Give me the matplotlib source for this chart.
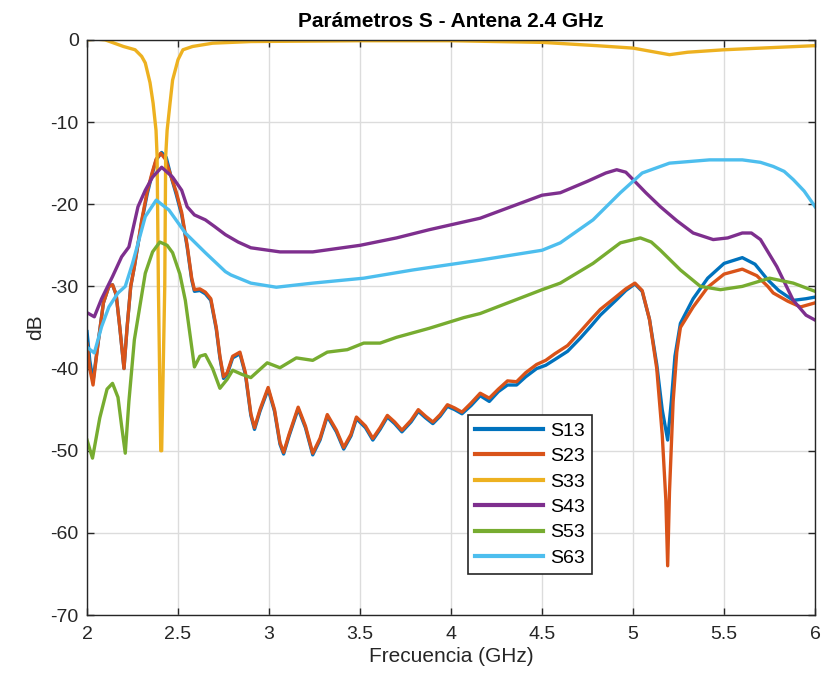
import matplotlib
matplotlib.use("Agg")
import matplotlib.pyplot as plt

plt.rcParams["font.family"] = ["Liberation Sans", "DejaVu Sans"]
plt.rcParams["axes.unicode_minus"] = False

# ---- data (GHz, dB) ----
f23 = [2.0, 2.015, 2.033, 2.06, 2.09, 2.12, 2.14, 2.16, 2.18, 2.203, 2.22, 2.24,
       2.26, 2.30, 2.33, 2.357, 2.38, 2.405, 2.43, 2.46, 2.49, 2.52, 2.55, 2.575,
       2.59, 2.62, 2.65, 2.68, 2.71, 2.73, 2.75, 2.77, 2.80, 2.84, 2.87, 2.90,
       2.92, 2.95, 2.995, 3.03, 3.06, 3.08, 3.11, 3.16, 3.20, 3.24, 3.28, 3.32,
       3.37, 3.41, 3.45, 3.48, 3.53, 3.57, 3.61, 3.65, 3.69, 3.73, 3.78, 3.82,
       3.86, 3.90, 3.94, 3.98, 4.02, 4.06, 4.11, 4.16, 4.21, 4.26, 4.31, 4.36,
       4.41, 4.47, 4.52, 4.57, 4.64, 4.71, 4.77, 4.82, 4.91, 4.96, 5.01, 5.05,
       5.09, 5.13, 5.16, 5.18, 5.19, 5.20, 5.22, 5.24, 5.26, 5.33, 5.41, 5.50,
       5.60, 5.68, 5.74, 5.77, 5.85, 5.92, 6.0]
s23 = [-37, -40, -42, -37, -32, -30, -29.8, -31, -35, -40, -35, -30,
       -27.6, -22, -18.5, -16.2, -14.5, -13.8, -14.5, -16.5, -18.5, -21, -25, -29,
       -30.4, -30.3, -30.7, -31.5, -35, -38.5, -41, -40.5, -38.5, -38, -40.5, -45.5,
       -47.2, -45, -42.3, -45, -49, -50.2, -48, -44.7, -47, -50.3, -48.5, -45.6,
       -47.5, -49.6, -48, -45.9, -47, -48.5, -47.2, -45.7, -46.5, -47.5, -46.3, -45,
       -45.8, -46.5, -45.6, -44.4, -44.8, -45.3, -44.2, -43.0, -43.6, -42.5, -41.5, -41.6,
       -40.5, -39.5, -39, -38.2, -37.2, -35.5, -34, -32.8, -31.2, -30.3, -29.6, -30.5,
       -34, -40, -48, -56, -64, -55, -44, -38, -35, -32.5, -30.1, -28.5,
       -27.9, -28.7, -30, -30.8, -31.8, -32.5, -32]

f13 = [2.0, 2.015, 2.033, 2.06, 2.09, 2.12, 2.14, 2.16, 2.18, 2.203, 2.22, 2.24,
       2.26, 2.30, 2.33, 2.357, 2.38, 2.41, 2.435, 2.46, 2.49, 2.52, 2.55, 2.575,
       2.59, 2.62, 2.65, 2.68, 2.71, 2.73, 2.75, 2.77, 2.80, 2.84, 2.87, 2.90,
       2.92, 2.95, 2.995, 3.03, 3.06, 3.08, 3.11, 3.16, 3.20, 3.24, 3.28, 3.32,
       3.37, 3.41, 3.45, 3.48, 3.53, 3.57, 3.61, 3.65, 3.69, 3.73, 3.78, 3.82,
       3.86, 3.90, 3.94, 3.98, 4.02, 4.06, 4.11, 4.16, 4.21, 4.26, 4.31, 4.36,
       4.41, 4.47, 4.52, 4.57, 4.64, 4.71, 4.77, 4.82, 4.91, 4.96, 5.01, 5.05,
       5.09, 5.13, 5.16, 5.19, 5.21, 5.23, 5.26, 5.33, 5.41, 5.50, 5.60, 5.67,
       5.74, 5.80, 5.88, 5.95, 6.0]
s13 = [-35.5, -39, -41.5, -37, -32, -30, -29.8, -31, -35, -40, -35, -30,
       -27.6, -22.2, -18.8, -16.4, -14.6, -13.7, -14.3, -16.5, -18.8, -21.3, -25.2, -29.2,
       -30.6, -30.5, -30.9, -31.7, -35.2, -38.7, -41.2, -40.7, -38.7, -38.2, -40.7, -45.7,
       -47.4, -45.2, -42.5, -45.2, -49.2, -50.4, -48.2, -44.9, -47.2, -50.5, -48.7, -45.8,
       -47.7, -49.8, -48.2, -46.1, -47.2, -48.7, -47.4, -45.9, -46.7, -47.7, -46.5, -45.2,
       -46, -46.7, -45.8, -44.6, -45, -45.5, -44.5, -43.3, -44, -42.8, -42, -42,
       -41, -40, -39.6, -38.9, -37.9, -36.3, -34.8, -33.5, -31.6, -30.5, -29.7, -30.6,
       -34, -39.5, -45, -48.7, -44, -38.5, -34.5, -31.5, -29, -27.2, -26.5, -27.3,
       -29.2, -30.5, -31.7, -31.5, -31.3]

f33 = [2.0, 2.05, 2.1, 2.15, 2.2, 2.264, 2.3, 2.32, 2.346, 2.363, 2.379, 2.385,
       2.392, 2.405, 2.41, 2.427, 2.432, 2.44, 2.456, 2.47, 2.5, 2.527, 2.58, 2.69,
       2.9, 3.5, 4.0, 4.5, 4.8, 5.0, 5.1, 5.2, 5.3, 5.5, 5.8, 6.0]
s33 = [0, 0.1, 0, -0.4, -0.8, -1.2, -2.0, -2.8, -5.2, -7.7, -11, -14.2,
       -30, -50, -50, -30, -14.2, -11, -7.7, -4.9, -2.4, -1.2, -0.8, -0.4,
       -0.2, -0.1, -0.1, -0.3, -0.7, -1.0, -1.4, -1.8, -1.5, -1.2, -0.9, -0.7]

f43 = [2.0, 2.04, 2.08, 2.14, 2.19, 2.23, 2.28, 2.32, 2.36, 2.41, 2.47, 2.52,
       2.55, 2.59, 2.65, 2.70, 2.76, 2.83, 2.9, 3.06, 3.24, 3.5, 3.7, 3.88,
       4.16, 4.5, 4.6, 4.75, 4.85, 4.91, 4.96, 5.0, 5.07, 5.15, 5.24, 5.33,
       5.44, 5.52, 5.6, 5.65, 5.7, 5.79, 5.88, 5.95, 6.0]
s43 = [-33.2, -33.7, -31.5, -28.8, -26.4, -25.2, -20.3, -18.3, -16.7, -15.5, -16.7, -18.3,
       -20.3, -21.3, -21.9, -22.7, -23.7, -24.6, -25.3, -25.8, -25.8, -25, -24.1, -23.1,
       -21.7, -18.9, -18.6, -17.2, -16.2, -15.8, -16.1, -17, -18.6, -20.3, -22, -23.5,
       -24.3, -24.1, -23.5, -23.5, -24.3, -27.6, -31.7, -33.5, -34.1]

f53 = [2.0, 2.03, 2.07, 2.11, 2.14, 2.17, 2.19, 2.21, 2.23, 2.26, 2.32, 2.36,
       2.40, 2.44, 2.47, 2.51, 2.54, 2.59, 2.62, 2.65, 2.69, 2.73, 2.77, 2.80,
       2.85, 2.9, 2.99, 3.06, 3.15, 3.24, 3.32, 3.43, 3.52, 3.61, 3.70, 3.88,
       4.07, 4.16, 4.5, 4.6, 4.78, 4.93, 5.04, 5.10, 5.15, 5.26, 5.37, 5.48,
       5.6, 5.75, 5.88, 6.0]
s53 = [-48.7, -50.9, -46, -42.5, -41.8, -43.5, -47, -50.3, -44, -36.5, -28.4, -25.8,
       -24.6, -25, -25.9, -28.5, -31.7, -39.8, -38.5, -38.3, -40, -42.4, -41.3, -40.2,
       -40.7, -41.1, -39.3, -39.9, -38.7, -39, -38, -37.7, -36.9, -36.9, -36.2, -35.1,
       -33.8, -33.3, -30.4, -29.6, -27.2, -24.7, -24.1, -24.6, -25.6, -28, -30, -30.4,
       -30, -29, -29.6, -30.6]

f63 = [2.0, 2.04, 2.08, 2.12, 2.17, 2.21, 2.25, 2.32, 2.38, 2.45, 2.54, 2.65,
       2.76, 2.79, 2.9, 3.04, 3.24, 3.52, 3.79, 4.16, 4.5, 4.6, 4.78, 4.93,
       5.05, 5.2, 5.42, 5.6, 5.7, 5.77, 5.83, 5.88, 5.94, 6.0]
s63 = [-37.4, -38.1, -34.9, -32.5, -30.8, -30, -27.2, -21.5, -19.5, -20.7, -23.5, -25.9,
       -28.2, -28.6, -29.6, -30.1, -29.6, -29, -28, -26.8, -25.6, -24.7, -21.9, -18.6,
       -16.2, -15, -14.6, -14.6, -14.9, -15.4, -16, -17, -18.4, -20.3]

names = ["S13", "S23", "S33", "S43", "S53", "S63"]
colors = ["#0072BD", "#D95319", "#EDB120", "#7E2F8E", "#77AC30", "#4DBEEE"]

fig = plt.figure(figsize=(8.25, 6.88), dpi=100)
ax = fig.add_axes([0.1055, 0.106, 0.8825, 0.836])

series = [(f13, s13), (f23, s23), (f33, s33), (f43, s43), (f53, s53), (f63, s63)]
for (fx, sy), name, c in zip(series, names, colors):
    ax.plot(fx, sy, color=c, lw=2.4, label=name, solid_joinstyle="round")

ax.set_xlim(2, 6)
ax.set_ylim(-70, 0)
ax.set_xticks([2, 2.5, 3, 3.5, 4, 4.5, 5, 5.5, 6])
ax.set_xticklabels(["2", "2.5", "3", "3.5", "4", "4.5", "5", "5.5", "6"])
ax.set_yticks(range(-70, 1, 10))
ax.grid(True, color="#dcdcdc", lw=1.0)
ax.set_axisbelow(True)
ax.tick_params(direction="in", length=5, width=1, colors="#262626", pad=6,
               labelsize=14, top=True, right=True, labeltop=False, labelright=False)
ax.tick_params(axis="x", pad=8)
for sp in ax.spines.values():
    sp.set_color("#262626")
    sp.set_linewidth(1.0)

ax.set_xlabel("Frecuencia (GHz)", fontsize=15, color="#262626", labelpad=3)
ax.set_ylabel("dB", fontsize=15, color="#262626", labelpad=4)
ax.set_title("Parámetros S - Antena 2.4 GHz", fontsize=15, fontweight="bold",
             color="#000000", pad=9)

leg = ax.legend(loc="upper left", bbox_to_anchor=(0.523, 0.347), fontsize=14,
                frameon=True, fancybox=False, handlelength=3.5, labelspacing=0.4,
                borderpad=0.35, handletextpad=0.4, borderaxespad=0)
leg.get_frame().set_edgecolor("#262626")
leg.get_frame().set_linewidth(1.2)
leg.get_frame().set_alpha(1.0)
for line in leg.get_lines():
    line.set_linewidth(3)

fig.savefig("out.png", dpi=100)
